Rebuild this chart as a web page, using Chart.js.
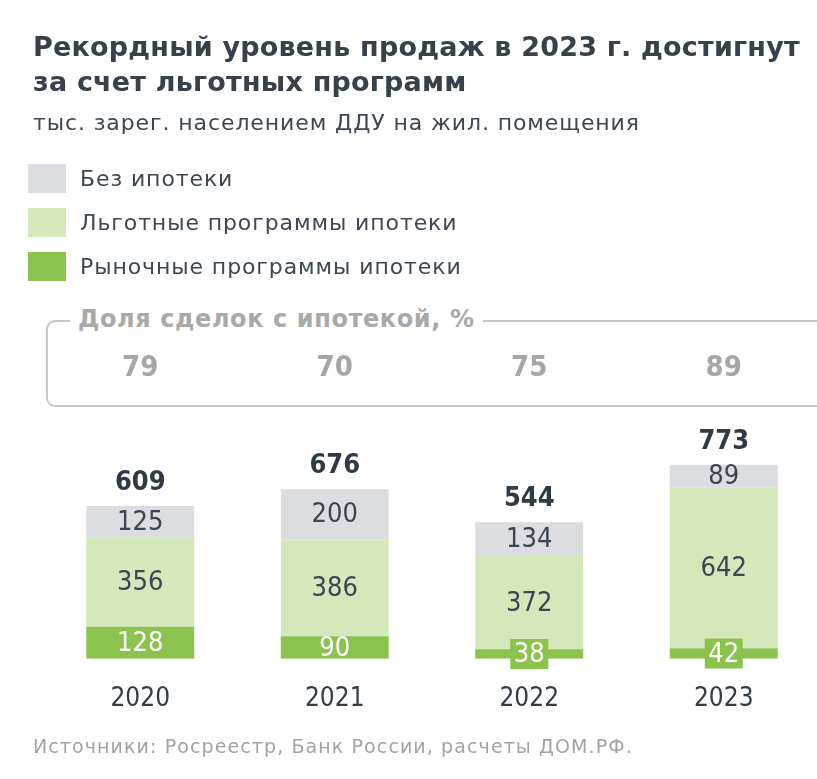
<!DOCTYPE html>
<html><head><meta charset="utf-8">
<script src="https://cdn.jsdelivr.net/npm/chart.js@4/dist/chart.umd.min.js"></script>
<style>
html,body{margin:0;padding:0;width:817px;height:779px;overflow:hidden;background:#fff;}
body{position:relative;font-family:'DejaVu Sans',sans-serif;}
#wrap{position:absolute;left:0;top:0;width:830px;height:779px;}
.t{position:absolute;white-space:nowrap;}
#title{left:33px;top:29px;font-weight:bold;font-size:27px;line-height:35px;color:#36414b;letter-spacing:0.2px;}
#sub{left:33px;top:110px;font-size:22px;color:#3e4852;letter-spacing:0.9px;}
#legend{position:absolute;left:28px;top:164px;}
.li{display:flex;align-items:center;height:29px;margin-bottom:15px;}
.sw{width:38px;height:29px;margin-right:14px;flex:none;}
.li span{font-size:22px;color:#3e4852;white-space:nowrap;letter-spacing:0.9px;}
#box{position:absolute;left:46px;top:320px;width:820px;height:87px;border:2px solid #c8c8c8;border-radius:9px;box-sizing:border-box;}
#boxlbl{position:absolute;left:70px;top:305px;padding:0 8px;background:#fff;font-weight:bold;font-size:24px;color:#a9a9a9;white-space:nowrap;letter-spacing:0.6px;}
#src{left:33px;top:735px;font-size:19px;color:#a3a3a3;letter-spacing:1.1px;}
</style>
</head>
<body>
<div id="wrap"><canvas id="c" width="830" height="779"></canvas></div>
<div class="t" id="title">Рекордный уровень продаж в 2023 г. достигнут<br>за счет льготных программ</div>
<div class="t" id="sub">тыс. зарег. населением ДДУ на жил. помещения</div>
<div id="legend"></div>
<div id="box"></div>
<div id="boxlbl">Доля сделок с ипотекой, %</div>
<div class="t" id="src">Источники: Росреестр, Банк России, расчеты ДОМ.РФ.</div>
<script>
const categories = ['2020', '2021', '2022', '2023'];
const withoutMortgage = [125, 200, 134, 89];
const preferentialPrograms = [356, 386, 372, 642];
const marketPrograms = [128, 90, 38, 42];
const totals = [609, 676, 544, 773];
const mortgageShare = [79, 70, 75, 89];
const seriesNames = ['Без ипотеки', 'Льготные программы ипотеки', 'Рыночные программы ипотеки'];
const shareTitle = 'Доля сделок с ипотекой, %';

const COL_GRAY = '#dcdde0';
const COL_LIGHT = '#d4e8bb';
const COL_DARK = '#8cc34f';
const FONT = "'DejaVu Sans Condensed','DejaVu Sans',sans-serif";

const labelPlugin = {
  id: 'labels',
  afterDatasetsDraw(chart) {
    const ctx = chart.ctx;
    ctx.save();
    ctx.textAlign = 'center';
    ctx.textBaseline = 'middle';
    chart.data.datasets.forEach((ds, di) => {
      const meta = chart.getDatasetMeta(di);
      meta.data.forEach((el, i) => {
        const h = el.base - el.y;
        const cy = (el.y + el.base) / 2;
        ctx.font = '27px ' + FONT;
        if (ds.isMarket) {
          if (h < 20) {
            ctx.fillStyle = COL_DARK;
            ctx.fillRect(el.x - 19, cy - 15, 38, 30);
          }
          ctx.fillStyle = '#ffffff';
        } else {
          ctx.fillStyle = '#3b4650';
        }
        ctx.fillText(String(ds.data[i]), el.x, cy + 1);
      });
    });
    const topMeta = chart.getDatasetMeta(chart.data.datasets.length - 1);
    ctx.font = 'bold 27px ' + FONT;
    ctx.fillStyle = '#2f3a44';
    topMeta.data.forEach((el, i) => {
      ctx.fillText(String(totals[i]), el.x, el.y - 23);
    });
    const xs = chart.scales.x;
    ctx.font = 'bold 29px ' + FONT;
    ctx.fillStyle = '#a6a6a6';
    mortgageShare.forEach((v, i) => {
      ctx.fillText(String(v), xs.getPixelForValue(i), 368);
    });
    ctx.restore();
  }
};

const chart = new Chart(document.getElementById('c'), {
  type: 'bar',
  data: {
    labels: categories,
    datasets: [
      { label: seriesNames[2], data: marketPrograms, backgroundColor: COL_DARK, isMarket: true },
      { label: seriesNames[1], data: preferentialPrograms, backgroundColor: COL_LIGHT },
      { label: seriesNames[0], data: withoutMortgage, backgroundColor: COL_GRAY }
    ]
  },
  options: {
    responsive: false,
    animation: false,
    layout: { padding: { left: 43, right: 9, top: 431, bottom: 39 } },
    datasets: { bar: { barPercentage: 0.555, categoryPercentage: 1 } },
    plugins: { legend: { display: false }, tooltip: { enabled: false } },
    scales: {
      x: {
        stacked: true,
        grid: { display: false, drawTicks: false, tickLength: 0 },
        border: { display: false },
        ticks: { padding: 25, color: '#333d47', font: { family: FONT, size: 26 } }
      },
      y: { stacked: true, display: false, min: 0, max: 908 }
    }
  },
  plugins: [labelPlugin]
});

const legendEl = document.getElementById('legend');
[...chart.data.datasets].reverse().forEach(ds => {
  const row = document.createElement('div');
  row.className = 'li';
  const sw = document.createElement('div');
  sw.className = 'sw';
  sw.style.background = ds.backgroundColor;
  const tx = document.createElement('span');
  tx.textContent = ds.label;
  row.appendChild(sw); row.appendChild(tx);
  legendEl.appendChild(row);
});
document.getElementById('boxlbl').textContent = shareTitle;
</script>
</body></html>
